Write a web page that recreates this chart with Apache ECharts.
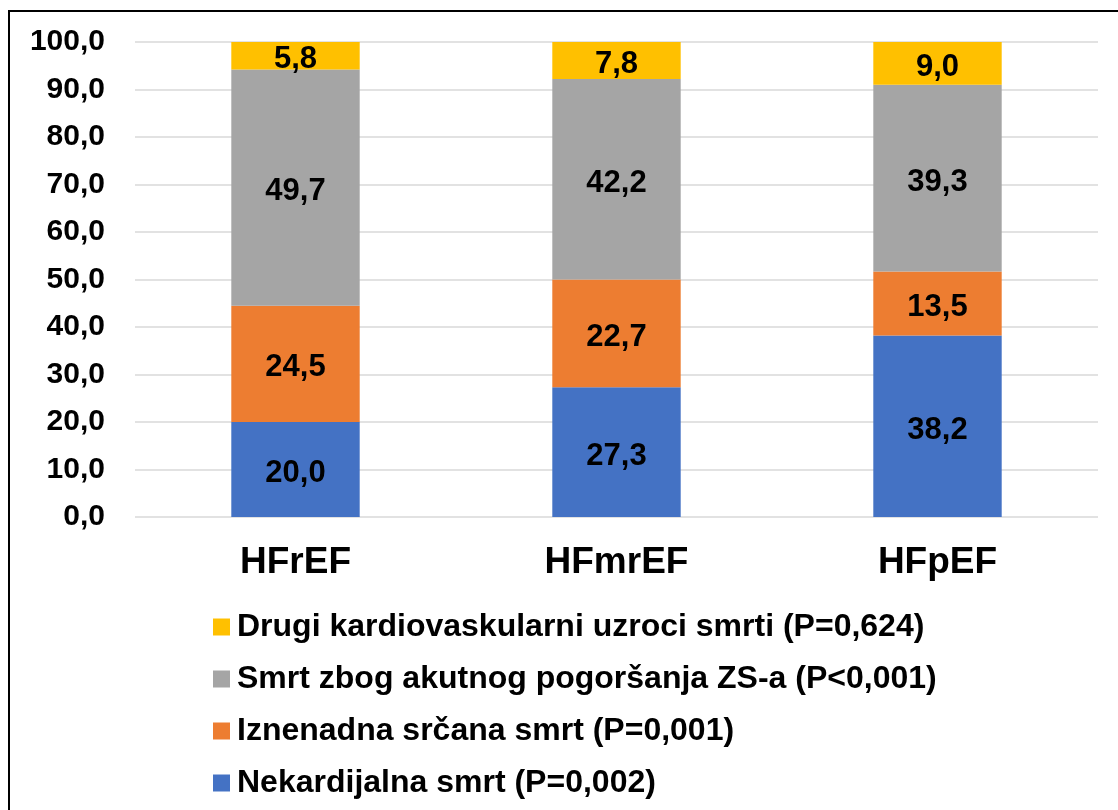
<!DOCTYPE html>
<html>
<head>
<meta charset="utf-8">
<script src="https://cdn.jsdelivr.net/npm/echarts@6/dist/echarts.min.js"></script>
<style>
  html, body { margin: 0; padding: 0; background: #fff; }
  #chart { width: 1118px; height: 810px; }
</style>
</head>
<body>
<div id="chart"></div>
<script>
// kategorije i vrijednosti (%)
const categories = ['HFrEF', 'HFmrEF', 'HFpEF']
const nekardijalna = [20.0, 27.3, 38.2]
const iznenadna = [24.5, 22.7, 13.5]
const pogorsanje = [49.7, 42.2, 39.3]
const drugi = [5.8, 7.8, 9.0]
const seriesNames = [
  'Nekardijalna smrt (P=0,002)',
  'Iznenadna srčana smrt (P=0,001)',
  'Smrt zbog akutnog pogoršanja ZS-a (P<0,001)',
  'Drugi kardiovaskularni uzroci smrti (P=0,624)'
]
const colors = ['#4472C4', '#ED7D31', '#A5A5A5', '#FFC000']

const font = '"Liberation Sans", Arial, sans-serif'
const fmt = v => v.toFixed(1).replace('.', ',')

const myChart = echarts.init(document.getElementById('chart'))
const makeSeries = (name, data, i) => ({
  name: name,
  type: 'bar',
  stack: 'total',
  data: data,
  barWidth: '40%',
  itemStyle: { color: colors[i] },
  label: {
    show: true,
    position: 'inside',
    offset: [0, 4],
    formatter: p => fmt(p.value),
    color: '#000',
    fontFamily: font,
    fontWeight: 'bold',
    fontSize: 31
  }
})
myChart.setOption({
  animation: false,
  textStyle: { fontFamily: font },
  grid: { left: 135, right: 20, top: 42, bottom: 293 },
  graphic: [{
    type: 'rect',
    shape: { x: 9, y: 11, width: 1130, height: 820 },
    style: { fill: 'none', stroke: '#000', lineWidth: 2 }
  }],
  legend: {
    orient: 'vertical',
    left: 208,
    top: 606,
    itemWidth: 17,
    itemHeight: 17,
    itemGap: 20,
    icon: 'rect',
    data: seriesNames.slice().reverse(),
    textStyle: { fontFamily: font, fontWeight: 'bold', fontSize: 32, color: '#000', padding: [0, 0, 0, 2] }
  },
  xAxis: {
    type: 'category',
    data: categories,
    axisLine: { show: false },
    axisTick: { show: false },
    axisLabel: { fontFamily: font, fontWeight: 'bold', fontSize: 37, color: '#000', margin: 27 }
  },
  yAxis: {
    type: 'value',
    min: 0,
    max: 100,
    interval: 10,
    axisLine: { show: false },
    axisTick: { show: false },
    splitLine: { lineStyle: { color: '#d9d9d9', width: 1.5 } },
    axisLabel: {
      formatter: v => fmt(v),
      fontFamily: font, fontWeight: 'bold', fontSize: 30, color: '#000', margin: 30
    }
  },
  series: [
    makeSeries(seriesNames[0], nekardijalna, 0),
    makeSeries(seriesNames[1], iznenadna, 1),
    makeSeries(seriesNames[2], pogorsanje, 2),
    makeSeries(seriesNames[3], drugi, 3)
  ]
})
</script>
</body>
</html>
